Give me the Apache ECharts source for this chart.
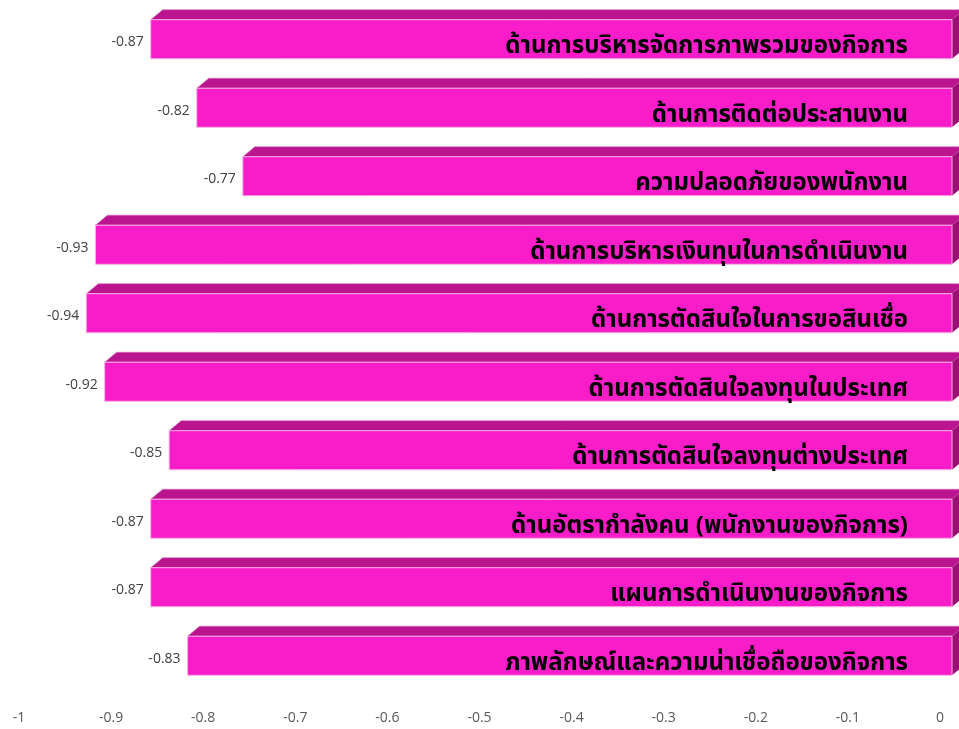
<!DOCTYPE html>
<html>
<head>
<meta charset="utf-8">
<script src="https://cdn.jsdelivr.net/npm/echarts@6/dist/echarts.min.js"></script>
<style>html,body{margin:0;padding:0;background:#fff}#c{width:959px;height:729px}</style>
</head>
<body>
<div id="c"></div>
<script>
const categories = [
  'ด้านการบริหารจัดการภาพรวมของกิจการ',
  'ด้านการติดต่อประสานงาน',
  'ความปลอดภัยของพนักงาน',
  'ด้านการบริหารเงินทุนในการดำเนินงาน',
  'ด้านการตัดสินใจในการขอสินเชื่อ',
  'ด้านการตัดสินใจลงทุนในประเทศ',
  'ด้านการตัดสินใจลงทุนต่างประเทศ',
  'ด้านอัตรากำลังคน (พนักงานของกิจการ)',
  'แผนการดำเนินงานของกิจการ',
  'ภาพลักษณ์และความน่าเชื่อถือของกิจการ'
];
const values = [-0.87, -0.82, -0.77, -0.93, -0.94, -0.92, -0.85, -0.87, -0.87, -0.83];
const axisMin = -1, axisMax = 0, axisStep = 0.1;

const chart = echarts.init(document.getElementById('c'), null, {renderer: 'canvas'});

function renderBar(params, api) {
  const idx = api.value(0);
  const v = api.value(1);
  const p0 = api.coord([v, idx]);
  const pz = api.coord([0, idx]);
  const band = api.size([0, 1])[1];
  const h = band * 0.57;
  const top = p0[1] - h / 2, bottom = p0[1] + h / 2;
  const x0 = p0[0], xz = pz[0];
  const dx = 12, dy = -10;
  return {
    type: 'group',
    children: [
      { type: 'polygon', shape: { points: [[x0, top], [x0 + dx, top + dy], [xz + dx, top + dy], [xz, top]] },
        style: { fill: '#BA148E', stroke: '#D86CBE', lineWidth: 0.6 } },
      { type: 'polygon', shape: { points: [[xz, top], [xz + dx, top + dy], [xz + dx, bottom + dy], [xz, bottom]] },
        style: { fill: '#9A0F74' } },
      { type: 'rect', shape: { x: x0, y: top, width: xz - x0, height: h },
        style: { fill: '#F81CC9', stroke: '#FBB0E6', lineWidth: 1 } },
      { type: 'text', x: x0 - 7, y: p0[1] + 3,
        style: { text: String(v), align: 'right', verticalAlign: 'middle', fill: '#404040',
                 font: '14px "Open Sans", sans-serif' } },
      { type: 'text', x: xz - 44, y: p0[1] + 9,
        style: { text: categories[idx], align: 'right', verticalAlign: 'middle', fill: '#000',
                 font: 'bold 24px Tahoma, "Noto Sans Thai", "Noto Sans", sans-serif' } }
    ]
  };
}

chart.setOption({
  animation: false,
  grid: [
    { left: 31, right: 7, top: 5, height: 685 },
    { left: 19, right: 19, top: 5, height: 685 }
  ],
  xAxis: [
    { gridIndex: 0, type: 'value', min: axisMin, max: axisMax, interval: axisStep,
      axisLabel: { show: false }, axisLine: { show: false }, axisTick: { show: false }, splitLine: { show: false } },
    { gridIndex: 1, type: 'value', min: axisMin, max: axisMax, interval: axisStep,
      axisLabel: { show: true, margin: 21, color: '#595959', fontSize: 14, fontFamily: '"Open Sans", sans-serif',
                   formatter: v => String(Math.round(v * 10) / 10) },
      axisLine: { show: false }, axisTick: { show: false }, splitLine: { show: false } }
  ],
  yAxis: [
    { gridIndex: 0, type: 'category', data: categories, inverse: true, show: false },
    { gridIndex: 1, type: 'category', data: categories, inverse: true, show: false }
  ],
  series: [
    { type: 'custom', xAxisIndex: 0, yAxisIndex: 0, renderItem: renderBar,
      data: values.map((v, i) => [i, v]), encode: { x: 1, y: 0 }, z: 2 }
  ]
});
</script>
</body>
</html>
